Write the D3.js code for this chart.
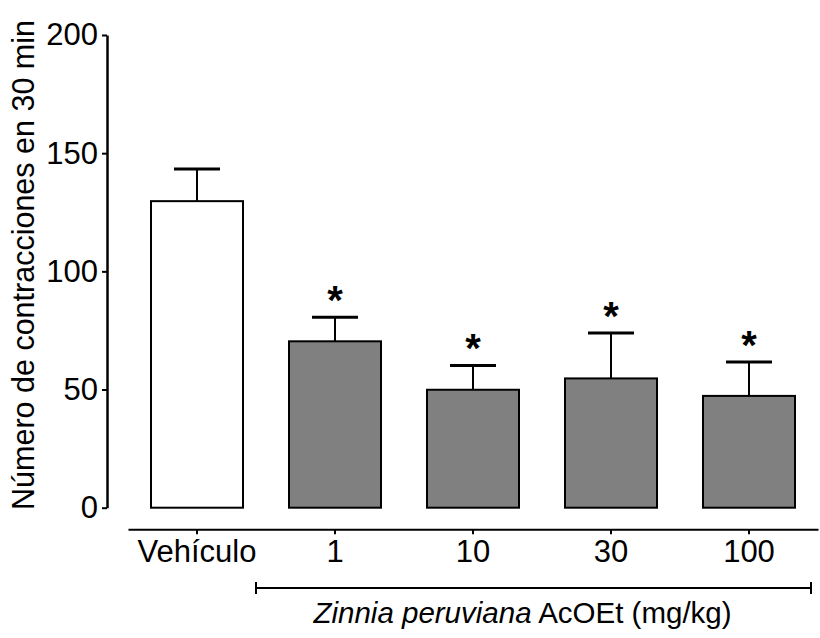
<!DOCTYPE html>
<html>
<head>
<meta charset="utf-8">
<script src="https://cdn.jsdelivr.net/npm/d3@7"></script>
<style>
   body { margin: 0; background: #fff; }
   text { font-family: Arial, "Liberation Sans", sans-serif; fill: #000; }
</style>
</head>
<body>
<script>
// datos del gráfico
const categories = ['Vehículo', '1', '10', '30', '100'];
const means = [129.7, 70.4, 49.9, 54.7, 47.3];
const sems = [13.6, 10.2, 10.3, 19.2, 14.3];
const significant = [false, true, true, true, true];
const fills = ['#ffffff', '#808080', '#808080', '#808080', '#808080'];
const yTicks = [0, 50, 100, 150, 200];

const width = 820, height = 638;
const fontSize = 31;

const svg = d3.select('body').append('svg')
   .attr('width', width)
   .attr('height', height);

// escalas
const y = d3.scaleLinear().domain([0, 200]).range([507.7, 35]);
const x = d3.scaleBand().domain(categories).range([128, 818])
   .paddingInner(1 / 3).paddingOuter(1 / 6);

// eje Y
const yAxis = svg.append('g')
   .attr('transform', 'translate(107, 0)')
   .call(d3.axisLeft(y).tickValues(yTicks).tickSize(5).tickSizeOuter(0).tickPadding(4));
yAxis.select('.domain').attr('stroke-width', 2.5);
yAxis.selectAll('.tick line').attr('stroke-width', 2);
yAxis.selectAll('.tick text').style('font-size', fontSize + 'px').attr('font-family', null);

// eje X
const xAxisY = 529.3;
const xAxis = svg.append('g')
   .attr('transform', 'translate(0,' + xAxisY + ')')
   .call(d3.axisBottom(x).tickSize(5).tickSizeOuter(0).tickPadding(6));
xAxis.select('.domain').attr('stroke-width', 2);
xAxis.selectAll('.tick line').attr('stroke-width', 2);
xAxis.selectAll('.tick text').style('font-size', fontSize + 'px').attr('font-family', null);

// barras
svg.append('g').selectAll('rect')
   .data(categories)
   .enter().append('rect')
   .attr('x', d => x(d))
   .attr('y', (d, i) => y(means[i]))
   .attr('width', x.bandwidth())
   .attr('height', (d, i) => y(0) - y(means[i]))
   .attr('fill', (d, i) => fills[i])
   .attr('stroke', '#000')
   .attr('stroke-width', 2);

// barras de error (solo hacia arriba)
const err = svg.append('g');
categories.forEach((d, i) => {
   const cx = x(d) + x.bandwidth() / 2;
   const top = y(means[i] + sems[i]);
   err.append('line')
      .attr('x1', cx).attr('x2', cx)
      .attr('y1', y(means[i])).attr('y2', top)
      .attr('stroke', '#000').attr('stroke-width', 2);
   err.append('line')
      .attr('x1', cx - x.bandwidth() / 4).attr('x2', cx + x.bandwidth() / 4)
      .attr('y1', top).attr('y2', top)
      .attr('stroke', '#000').attr('stroke-width', 3);
   if (significant[i]) {
      err.append('text')
         .attr('x', cx)
         .attr('y', top - 3)
         .attr('text-anchor', 'middle')
         .style('font-size', '40px')
         .style('font-weight', 'bold')
         .text('*');
   }
});

// corchete para los grupos tratados
const bracketY = 588;
const bx1 = x('1') - 33;
const bx2 = x('100') + x.bandwidth() + 16;
const br = svg.append('g').attr('stroke', '#000').attr('stroke-width', 2);
br.append('line').attr('x1', bx1).attr('x2', bx2).attr('y1', bracketY).attr('y2', bracketY);
br.append('line').attr('x1', bx1).attr('x2', bx1).attr('y1', bracketY - 6).attr('y2', bracketY + 6);
br.append('line').attr('x1', bx2).attr('x2', bx2).attr('y1', bracketY - 6).attr('y2', bracketY + 6);

// etiqueta del eje X
const xl = svg.append('text')
   .attr('x', (bx1 + bx2) / 2 - 11)
   .attr('y', 623)
   .attr('text-anchor', 'middle')
   .style('font-size', '29.5px');
xl.append('tspan').style('font-style', 'italic').text('Zinnia peruviana');
xl.append('tspan').text(' AcOEt (mg/kg)');

// etiqueta del eje Y
svg.append('text')
   .attr('transform', 'translate(34, 265) rotate(-90)')
   .attr('text-anchor', 'middle')
   .style('font-size', '30.5px')
   .text('Número de contracciones en 30 min');
</script>
</body>
</html>
